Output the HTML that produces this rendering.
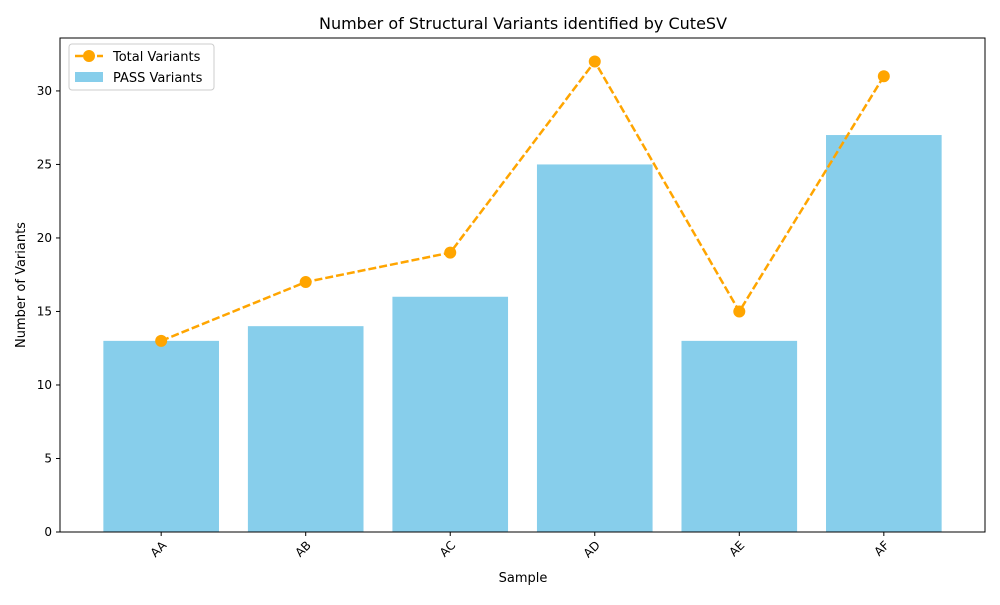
<!DOCTYPE html>
<html><head><meta charset="utf-8"><style>
body{margin:0;background:#fff;font-family:"Liberation Sans","DejaVu Sans",sans-serif;}
svg text{font-family:"DejaVu Sans","Liberation Sans",sans-serif;fill:#000;}
</style></head><body>
<svg id="chart" width="1000" height="600" xmlns="http://www.w3.org/2000/svg">
<rect width="1000" height="600" fill="#fff"/>
<text x="523" y="29" font-size="16" text-anchor="middle">Number of Structural Variants identified by CuteSV</text>
<g id="plot"></g>
<text x="523" y="582" font-size="13" text-anchor="middle">Sample</text>
<text transform="translate(25,285) rotate(-90)" font-size="13" text-anchor="middle">Number of Variants</text>
<g>
<rect x="69" y="44" width="145" height="46" fill="#fff" fill-opacity="0.8" stroke="#ccc" rx="3"/>
<line x1="75" y1="56" x2="103" y2="56" stroke="orange" stroke-width="2.5" stroke-dasharray="8,3"/>
<circle cx="89" cy="56" r="6" fill="orange"/>
<text x="113" y="61" font-size="13">Total Variants</text>
<rect x="75" y="72" width="28" height="10" fill="#87ceeb"/>
<text x="113" y="82" font-size="13">PASS Variants</text>
</g>
</svg>
<script>
const categories=["AA","AB","AC","AD","AE","AF"];
const passValues=[13,14,16,25,13,27];
const totalValues=[13,17,19,32,15,31];
const yTicks=[0,5,10,15,20,25,30];
const L=60,R=985,T=38,B=532,yMax=33.6,xMin=-0.7,xMax=categories.length-1+0.7;
const NS="http://www.w3.org/2000/svg";
const g=document.getElementById('plot');
const xs=i=>L+(i-xMin)/(xMax-xMin)*(R-L);
const ys=v=>B-v/yMax*(B-T);
function mk(t,a){const e=document.createElementNS(NS,t);for(const k in a)e.setAttribute(k,a[k]);g.appendChild(e);return e;}
const bw=(xs(0.8)-xs(0));
passValues.forEach((v,i)=>{
 const r=mk('rect',{x:xs(i)-bw/2,y:ys(v),width:bw,height:B-ys(v),fill:'#87ceeb'});
 
 
});
mk('rect',{x:L,y:T,width:R-L,height:B-T,fill:'none',stroke:'#000','stroke-width':1});
yTicks.forEach(v=>{
 mk('line',{x1:L-4,x2:L,y1:ys(v),y2:ys(v),stroke:'#000'});
 const t=mk('text',{x:L-8,y:ys(v)+4,'font-size':12,'text-anchor':'end'});t.textContent=v;
 
 
});
categories.forEach((c,i)=>{
 mk('line',{x1:xs(i),x2:xs(i),y1:B,y2:B+4,stroke:'#000'});
 const t=mk('text',{transform:`translate(${xs(i)+6},${B+14}) rotate(-45)`,'font-size':12,'text-anchor':'end'});t.textContent=c;
 
 
});
const pl=mk('polyline',{points:totalValues.map((v,i)=>xs(i)+','+ys(v)).join(' '),fill:'none',stroke:'orange','stroke-width':2.5,'stroke-dasharray':'8,3'});


totalValues.forEach((v,i)=>{
 const c=mk('circle',{cx:xs(i),cy:ys(v),r:6,fill:'orange'});
 
 
});
</script>
</body></html>
